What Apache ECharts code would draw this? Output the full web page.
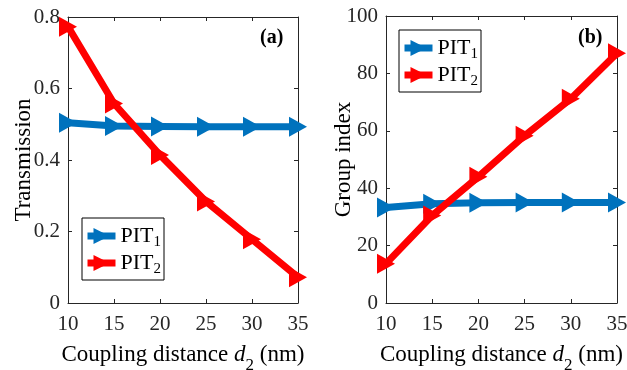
<!DOCTYPE html>
<html><head><meta charset="utf-8">
<script src="https://cdn.jsdelivr.net/npm/echarts@6/dist/echarts.min.js"></script>
<style>html,body{margin:0;padding:0;background:#fff}#c{width:627px;height:370px}</style>
</head><body><div id="c"></div>
<script>
const distances = [10, 15, 20, 25, 30, 35];
const transPIT1 = [0.504, 0.495, 0.494, 0.493, 0.493, 0.493];
const transPIT2 = [0.773, 0.558, 0.414, 0.284, 0.178, 0.072];
const groupPIT1 = [33.3, 34.6, 34.9, 35.0, 35.0, 35.0];
const groupPIT2 = [13.7, 30.5, 44.0, 58.3, 71.2, 87.0];
const leftTicks = [0, 0.2, 0.4, 0.6, 0.8];
const rightTicks = [0, 20, 40, 60, 80, 100];

const FONT = '"Liberation Serif", "Times New Roman", serif';
const BLUE = '#0072BD', RED = '#FF0000';
const chart = echarts.init(document.getElementById('c'));

const grids = [
  {left: 68, top: 17, width: 230, height: 286, outerBoundsMode: 'none', containLabel: false},
  {left: 386, top: 16, width: 231, height: 287, outerBoundsMode: 'none', containLabel: false}
];
function pairs(xs, ys){ return xs.map((x,i)=>[x, ys[i]]); }
const axisNameRich = {
  n: {fontFamily: FONT, fontSize: 23, color: '#000'},
  i: {fontFamily: FONT, fontSize: 23, fontStyle: 'italic', color: '#000'},
  s: {fontFamily: FONT, fontSize: 17, color: '#000', verticalAlign: 'bottom', padding: [22,0,0,0]}
};
function xAxes(gi){
  return [{
    type: 'value', gridIndex: gi, min: 10, max: 35, interval: 5,
    name: '{n|Coupling distance}{i| d}{s|2}{n| (nm)}', nameLocation: 'middle', nameGap: 32,
    nameMoveOverlap: false,
    nameTextStyle: {rich: axisNameRich},
    axisLine: {onZero: false, lineStyle: {color: '#262626', width: 1}},
    axisTick: {inside: true, length: 4, lineStyle: {color: '#262626'}},
    axisLabel: {fontFamily: FONT, fontSize: 21, color: '#262626', margin: 11,
      formatter: v => String(v)},
    splitLine: {show: false}
  },{
    type: 'value', gridIndex: gi, min: 10, max: 35, interval: 5, position: 'top',
    axisLine: {onZero: false, lineStyle: {color: '#262626', width: 1}},
    axisTick: {inside: true, length: 4, lineStyle: {color: '#262626'}},
    axisLabel: {show: false}, splitLine: {show: false}
  }];
}
function yAxes(gi, max, interval, name, fmt, gap){
  return [{
    type: 'value', gridIndex: gi, min: 0, max: max, interval: interval,
    name: name, nameLocation: 'middle', nameGap: gap, nameMoveOverlap: false,
    nameTextStyle: {fontFamily: FONT, fontSize: 23, color: '#000'},
    axisLine: {onZero: false, lineStyle: {color: '#262626', width: 1}},
    axisTick: {inside: true, length: 4, lineStyle: {color: '#262626'}},
    axisLabel: {fontFamily: FONT, fontSize: 21, color: '#262626', margin: 8, formatter: fmt},
    splitLine: {show: false}
  },{
    type: 'value', gridIndex: gi, min: 0, max: max, interval: interval, position: 'right',
    axisLine: {onZero: false, lineStyle: {color: '#262626', width: 1}},
    axisTick: {inside: true, length: 4, lineStyle: {color: '#262626'}},
    axisLabel: {show: false}, splitLine: {show: false}
  }];
}
function ser(name, data, color, xi, yi){
  return {
    name: name, type: 'line', xAxisIndex: xi, yAxisIndex: yi, data: data,
    clip: false, symbol: 'triangle', symbolSize: [20, 18], symbolRotate: -90,
    lineStyle: {color: color, width: 7}, itemStyle: {color: color},
    emphasis: {disabled: true}, animation: false, z: name==='PIT2'?3:2
  };
}
const legendRich = {
  n: {fontFamily: FONT, fontSize: 22, color: '#000'},
  s: {fontFamily: FONT, fontSize: 15, color: '#000', verticalAlign: 'bottom', padding: [13,0,0,0]}
};
function legend(left, top){
  return {
    left: left, top: top, orient: 'vertical', itemGap: 2, itemWidth: 28, itemHeight: 20,
    borderColor: '#000', borderWidth: 1, padding: [7, 3, 3, 2], backgroundColor: '#fff',
    lineStyle: {width: 7},
    formatter: n => '{n|PIT}{s|' + n.slice(3) + '}',
    textStyle: {rich: legendRich}, data: ['PIT1', 'PIT2']
  };
}
chart.setOption({
  animation: false,
  grid: grids,
  xAxis: [...xAxes(0), ...xAxes(1)],
  yAxis: [...yAxes(0, 0.8, 0.2, 'Transmission', v => v === 0 ? '0' : v.toFixed(1), 33),
          ...yAxes(1, 100, 20, 'Group index', v => String(v), 31)],
  legend: [legend(82, 218), legend(399, 30)],
  series: [
    ser('PIT1', pairs(distances, transPIT1), BLUE, 0, 0),
    ser('PIT2', pairs(distances, transPIT2), RED, 0, 0),
    ser('PIT1', pairs(distances, groupPIT1), BLUE, 2, 2),
    ser('PIT2', pairs(distances, groupPIT2), RED, 2, 2)
  ],
  graphic: [
    {type: 'text', left: 260, top: 28, style: {text: '(a)', font: 'bold 20px ' + FONT, fill: '#000'}},
    {type: 'text', left: 578, top: 28, style: {text: '(b)', font: 'bold 20px ' + FONT, fill: '#000'}}
  ]
});
</script></body></html>
